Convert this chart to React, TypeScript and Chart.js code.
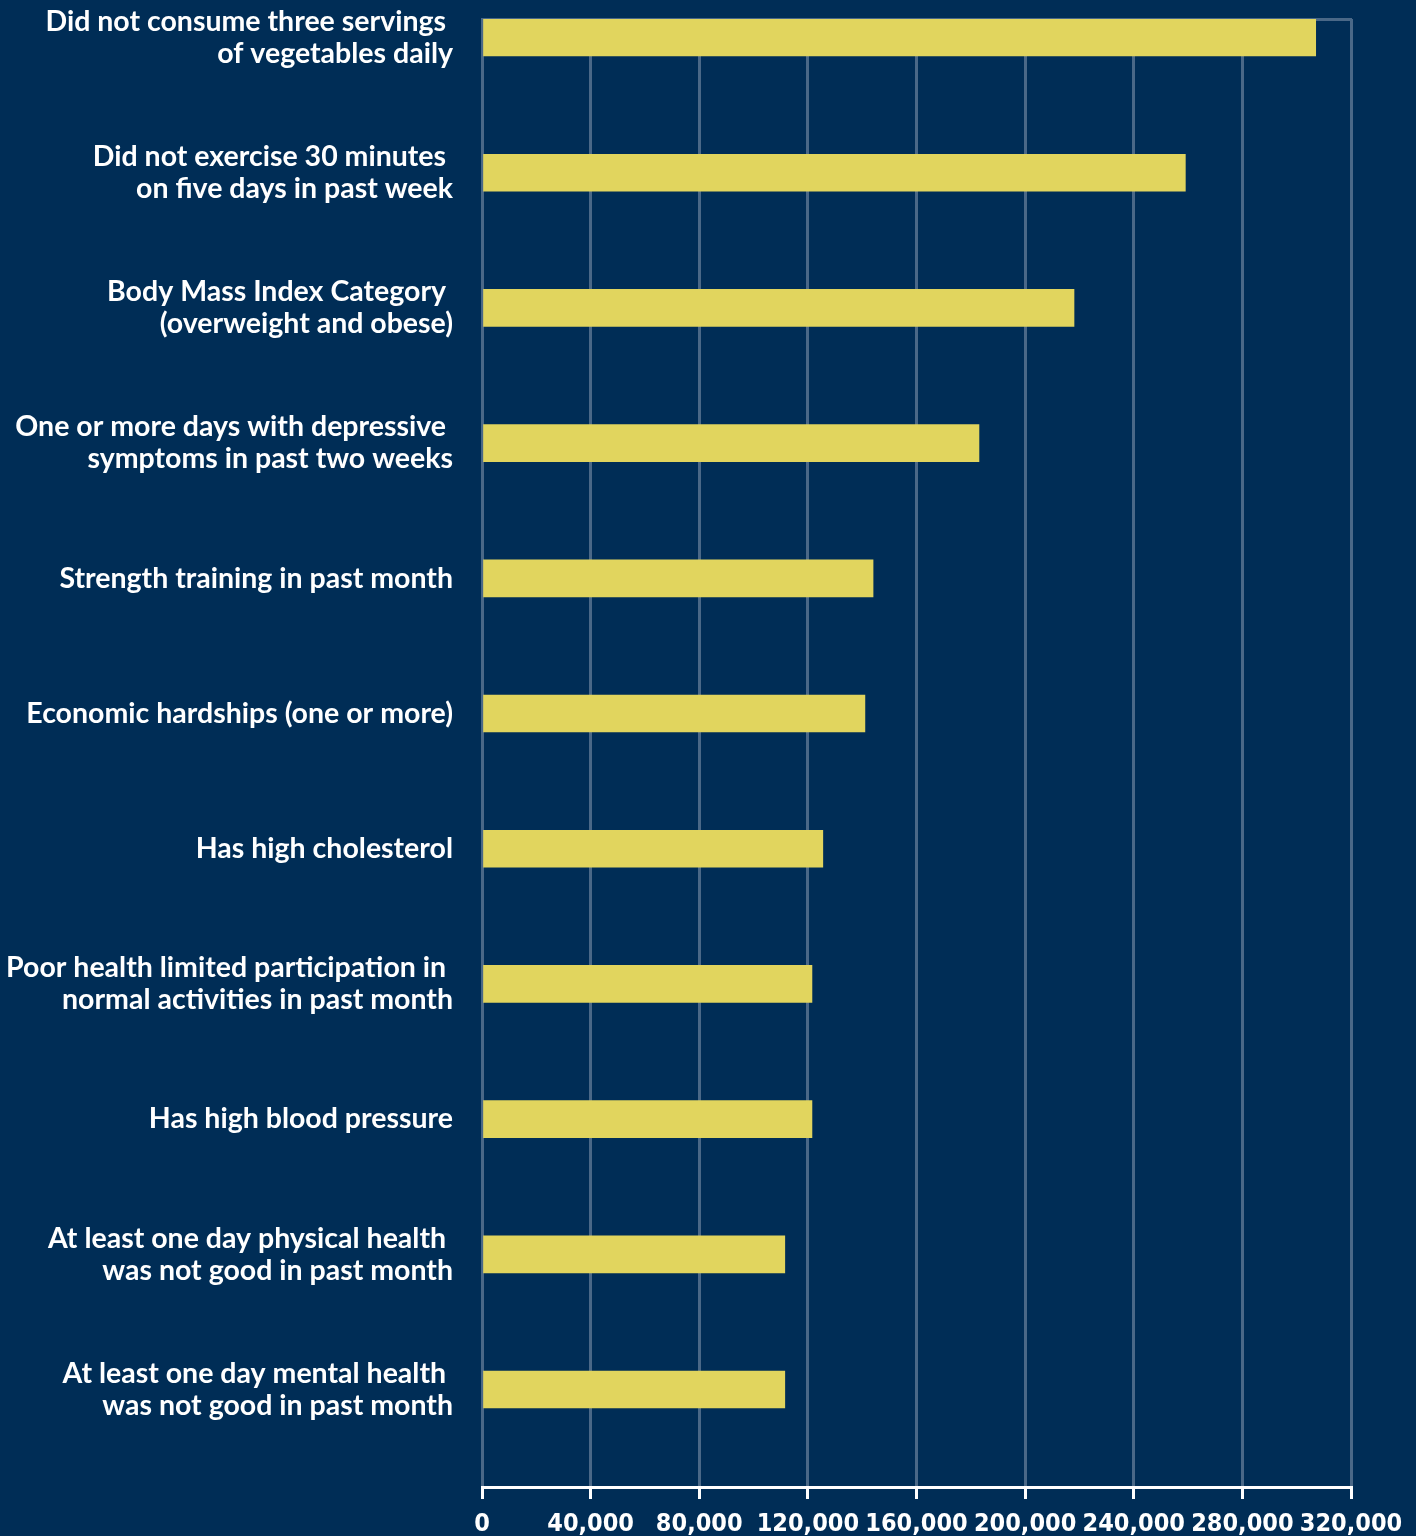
import React, { useEffect, useRef } from "react";
import { Chart, registerables } from "chart.js";

Chart.register(...registerables);

const categories: string[][] = [
  ["Did not consume three servings ", "of vegetables daily"],
  ["Did not exercise 30 minutes ", "on five days in past week"],
  ["Body Mass Index Category ", "(overweight and obese)"],
  ["One or more days with depressive ", "symptoms in past two weeks"],
  ["Strength training in past month"],
  ["Economic hardships (one or more)"],
  ["Has high cholesterol"],
  ["Poor health limited participation in ", "normal activities in past month"],
  ["Has high blood pressure"],
  ["At least one day physical health ", "was not good in past month"],
  ["At least one day mental health ", "was not good in past month"],
];

const values: number[] = [
  307000, 259000, 218000, 183000, 144000, 141000, 125500, 121500, 121500, 111500, 111500,
];

const xTicks: number[] = [0, 40000, 80000, 120000, 160000, 200000, 240000, 280000, 320000];

const BG = "#002d56";
const GRID = "#4a6887";
const BAR = "#e1d55e";

const zeroPad = (scale: any) => {
  scale.paddingTop = 0;
  scale.paddingBottom = 0;
  scale.paddingLeft = 0;
  scale.paddingRight = 0;
};

export default function App() {
  const ref = useRef<HTMLCanvasElement | null>(null);

  useEffect(() => {
    document.body.style.margin = "0";
    document.body.style.overflow = "hidden";
    document.body.style.background = BG;
    const canvas = ref.current;
    if (!canvas) return;
    const chart = new Chart(canvas, {
      type: "bar",
      data: {
        datasets: [
          {
            data: values.map((v, i) => ({ x: v, y: i })) as any,
            backgroundColor: BAR,
            borderWidth: 0,
            barThickness: 37,
          },
        ],
      },
      options: {
        indexAxis: "y",
        responsive: false,
        animation: false,
        devicePixelRatio: 1,
        layout: { padding: { top: 19, right: 65, bottom: 0, left: 0 } },
        plugins: { legend: { display: false }, tooltip: { enabled: false } },
        scales: {
          x: {
            type: "linear",
            position: "bottom",
            min: 0,
            max: 320000,
            afterBuildTicks: (scale: any) => {
              scale.ticks = xTicks.map((v) => ({ value: v }));
            },
            afterFit: (scale: any) => {
              scale.height = 49;
              zeroPad(scale);
            },
            grid: {
              display: true,
              color: GRID,
              lineWidth: 3,
              drawTicks: true,
              tickLength: 12,
              tickColor: "#ffffff",
              tickWidth: 3,
            },
            border: { display: true, color: "#ffffff", width: 3 },
            ticks: {
              color: "#ffffff",
              padding: 12,
              maxRotation: 0,
              autoSkip: false,
              font: {
                family: "'Liberation Sans Narrow', 'DejaVu Sans Condensed', 'Liberation Sans', sans-serif",
                size: 25,
                weight: "bold",
                lineHeight: 1.1,
              },
              callback: (v: any) => Number(v).toLocaleString("en-US"),
            },
          },
          x2: {
            type: "linear",
            position: "top",
            display: true,
            afterFit: (scale: any) => {
              scale.height = 0;
              zeroPad(scale);
            },
            grid: { display: false, drawTicks: false },
            border: { display: true, color: GRID, width: 3 },
            ticks: { display: false },
          },
          y: {
            type: "linear",
            reverse: true,
            offset: false,
            bounds: "data",
            min: -0.137,
            max: 10.721,
            afterBuildTicks: (scale: any) => {
              scale.ticks = categories.map((_, i) => ({ value: i }));
            },
            afterFit: (scale: any) => {
              scale.width = 482;
              zeroPad(scale);
            },
            grid: { display: false, drawTicks: false, offset: false },
            border: { display: false },
            ticks: {
              color: "#ffffff",
              padding: 29,
              autoSkip: false,
              font: { family: "Lato, 'Noto Sans', sans-serif", size: 28.5, weight: "bold", lineHeight: 1.123 },
              callback: (v: any) => categories[Math.round(Number(v))] as any,
            },
          },
        },
      } as any,
    });
    return () => chart.destroy();
  }, []);

  return (
    <div style={{ position: "absolute", left: 0, top: 0, width: 1416, height: 1536, background: BG }}>
      <canvas ref={ref} width={1416} height={1536} style={{ display: "block", width: 1416, height: 1536 }} />
    </div>
  );
}
